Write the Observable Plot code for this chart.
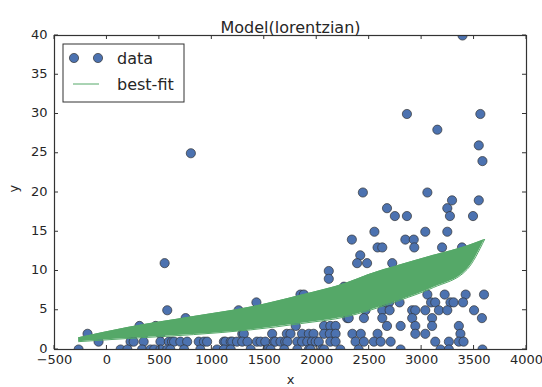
<!DOCTYPE html>
<html><head><meta charset="utf-8">
<script src="https://cdn.jsdelivr.net/npm/d3@7"></script>
<script src="https://cdn.jsdelivr.net/npm/@observablehq/plot@0.6"></script>
<style>body{margin:0;background:#fff;} svg{font-family:"DejaVu Sans",sans-serif;}</style>
</head><body><div id="chart"></div>
<script>
// observed data (x, y)
const dataX = [
 3390,800,2860,3560,3150,3545,3580,2440,3055,2670,3245,3290,3545,2745,2860,3270,3490,2550,3035,3245,2335,2845,2925,2930,2580,2625,3195,3385,2415,2385,2480,2720,3055,550,2115,2115,2510,3130,2260,1845,1877,3055,3220,3420,3595,
 1425,2655,2690,2790,3090,3130,3275,3305,3395,
 575,1255,2465,2625,2695,2910,2940,3035,3165,3245,3500,
 750,2290,2305,2450,2625,2910,3100,3575,
 310,465,1800,2070,2130,2180,2670,2800,2940,3100,3355,
 -185,255,350,510,1290,1305,1575,1715,1750,1860,1925,1970,2070,2125,2180,2340,2420,2580,2940,3035,3370,
 -80,225,255,350,510,590,620,640,700,765,875,925,955,1115,1130,1180,1195,1240,1290,1340,1430,1465,1510,1590,1605,1655,1700,1720,1815,1860,1910,1955,1990,2020,2130,2180,2370,2450,2545,2610,2705,3130,3260,3355,3400,
 -270,130,195,335,415,450,510,575,605,735,890,1050,1115,1180,1370,1530,1560,1690,1815,1925,1940,2050,2070,2225,2400,2800,3180,3260,3580
];
const dataY = [
 40,25,30,30,28,26,24,20,20,18,18,19,19,17,17,17,17,15,15,15,14,14,14,13,13,13,13,13,12,11,11,11,11,11,10,9,9,9,8,7,7,7,7,7,7,
 6,6,6,6,6,6,6,6,6,
 5,5,5,5,5,5,5,5,5,5,5,
 4,4,4,4,4,4,4,4,
 3,3,3,3,3,3,3,3,3,3,3,
 2,2,2,2,2,2,2,2,2,2,2,2,2,2,2,2,2,2,2,2,2,
 1,1,1,1,1,1,1,1,1,1,1,1,1,1,1,1,1,1,1,1,1,1,1,1,1,1,1,1,1,1,1,1,1,1,1,1,1,1,1,1,1,1,1,1,1,
 0,0,0,0,0,0,0,0,0,0,0,0,0,0,0,0,0,0,0,0,0,0,0,0,0,0,0,0,0
];
// best-fit band envelope
const fitX     = [-270, 196, 826, 1369, 1845, 2290, 2484, 2799, 3113, 3434, 3600];
const fitUpper = [1.5, 2.8, 4.2, 5.4, 6.9, 8.5, 9.5, 10.8, 12.0, 13.2, 14.0];
const fitLower = [1.0, 1.4, 1.9, 2.5, 3.3, 4.2, 4.9, 6.3, 7.9, 10.2, 14.0];
const xTicks = [-500, 0, 500, 1000, 1500, 2000, 2500, 3000, 3500, 4000];
const yTicks = [0, 5, 10, 15, 20, 25, 30, 35, 40];
const titleText = "Model(lorentzian)";
const legendLabels = ["data", "best-fit"];

const points = dataX.map((x, i) => ({x, y: dataY[i]}));
const fit = fitX.map((x, i) => ({x, hi: fitUpper[i], lo: fitLower[i]}));
const fmt = d => d < 0 ? "\u2212" + Math.abs(d) : String(d);
const blue = "#4c72b0", green = "#55a868", ink = "#262626";

const chart = Plot.plot({
  width: 542, height: 387,
  marginLeft: 54, marginRight: 16, marginTop: 35, marginBottom: 38,
  style: {fontFamily: "DejaVu Sans", fontSize: "13px", color: ink, background: "white"},
  x: {domain: [-500, 4000]},
  y: {domain: [0, 40]},
  marks: [
    Plot.dot(points, {x: "x", y: "y", r: 4.6, fill: blue, stroke: "#333", strokeWidth: 0.7, clip: true}),
    Plot.areaY(fit, {x: "x", y1: "lo", y2: "hi", fill: green, curve: "monotone-x", clip: true}),
    Plot.line(fit, {x: "x", y: "hi", stroke: green, strokeWidth: 1, curve: "monotone-x"}),
    Plot.line(fit, {x: "x", y: "lo", stroke: green, strokeWidth: 1, curve: "monotone-x"}),
    Plot.frame({stroke: "#333", strokeWidth: 1.2}),
    Plot.axisX({ticks: xTicks, tickSize: 0, tickPadding: 5, tickFormat: fmt, label: null, fontSize: 13}),
    Plot.axisY({ticks: yTicks, tickSize: 0, tickPadding: 7, tickFormat: fmt, label: null, fontSize: 13, dy: -1}),
    Plot.text([titleText], {frameAnchor: "top", dy: -14, fontSize: 16, fill: ink}),
    Plot.text(["x"], {frameAnchor: "bottom", dy: 34, fontSize: 13, fill: ink}),
    Plot.text(["y"], {frameAnchor: "left", dx: -41, rotate: -90, fontSize: 13, fill: ink})
  ]
});

// inward ticks on all four sides, positioned with the plot's scales
const svg = d3.select(chart);
const sx = chart.scale("x"), sy = chart.scale("y");
const [x0, x1] = sx.range, [y0, y1] = sy.range; // y0 bottom, y1 top
const tg = svg.append("g").attr("stroke", "#333").attr("stroke-width", 1);
for (const t of xTicks) {
  const px = sx.apply(t);
  tg.append("line").attr("x1", px).attr("x2", px).attr("y1", y0).attr("y2", y0 - 4);
  tg.append("line").attr("x1", px).attr("x2", px).attr("y1", y1).attr("y2", y1 + 4);
}
for (const t of yTicks) {
  const py = sy.apply(t);
  tg.append("line").attr("y1", py).attr("y2", py).attr("x1", x0).attr("x2", x0 + 4);
  tg.append("line").attr("y1", py).attr("y2", py).attr("x1", x1).attr("x2", x1 - 4);
}

// legend (upper left)
const lg = svg.append("g").attr("transform", `translate(${x0 + 9},${y1 + 9})`).attr("text-anchor", "start");
lg.append("rect").attr("width", 121).attr("height", 58).attr("fill", "white").attr("stroke", "#333").attr("stroke-width", 1);
lg.append("circle").attr("cx", 11).attr("cy", 14).attr("r", 4.6).attr("fill", blue).attr("stroke", "#333").attr("stroke-width", 0.7);
lg.append("circle").attr("cx", 35).attr("cy", 14).attr("r", 4.6).attr("fill", blue).attr("stroke", "#333").attr("stroke-width", 0.7);
lg.append("text").attr("x", 54).attr("y", 19.5).attr("font-size", 16).attr("fill", ink).attr("text-anchor", "start").text(legendLabels[0]);
lg.append("line").attr("x1", 10).attr("x2", 36).attr("y1", 40).attr("y2", 40).attr("stroke", green).attr("stroke-width", 1);
lg.append("text").attr("x", 54).attr("y", 45.5).attr("font-size", 16).attr("fill", ink).attr("text-anchor", "start").text(legendLabels[1]);

document.getElementById("chart").append(chart);
</script>
</body></html>
